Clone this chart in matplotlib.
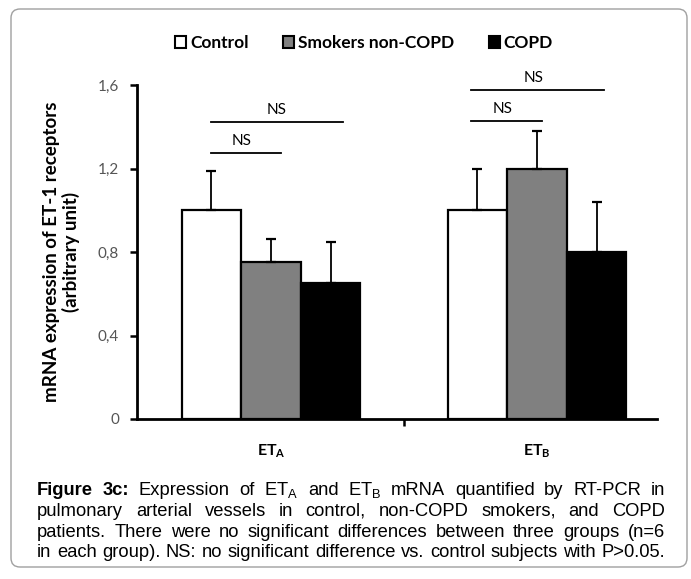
import numpy as np
import matplotlib
matplotlib.use("Agg")
import matplotlib.pyplot as plt
from matplotlib.patches import Patch, FancyBboxPatch
from matplotlib.transforms import IdentityTransform

# data
groups = ["ET$_\\mathregular{A}$", "ET$_\\mathregular{B}$"]
series = ["Control", "Smokers non-COPD", "COPD"]
means = {
    "Control": [1.00, 1.00],
    "Smokers non-COPD": [0.75, 1.20],
    "COPD": [0.65, 0.80],
}
upper_err = {
    "Control": [0.19, 0.20],
    "Smokers non-COPD": [0.11, 0.18],
    "COPD": [0.20, 0.24],
}
y_ticks = [0, 0.4, 0.8, 1.2, 1.6]
y_tick_labels = ["0", "0,4", "0,8", "1,2", "1,6"]

caption_lines = [
    "Figure 3c: Expression of ET$_\\mathregular{A}$ and ET$_\\mathregular{B}$ mRNA quantified by RT-PCR in",
    "pulmonary arterial vessels in control, non-COPD smokers, and COPD",
    "patients.  There were no significant differences between three groups (n=6",
    "in each group). NS: no significant difference vs. control subjects with P>0.05.",
]

colors = {"Control": "white", "Smokers non-COPD": "#808080", "COPD": "black"}
ui_font = ["Lato", "DejaVu Sans"]
cap_font = ["Liberation Sans", "DejaVu Sans"]

W, H = 691, 579
fig = plt.figure(figsize=(W / 100, H / 100), dpi=100)


def fx(px):
    return px / W


def fy(py):
    return 1 - py / H


# outer rounded frame
frame = FancyBboxPatch((11, H - 567), 676, 558, boxstyle="round,pad=0,rounding_size=9",
                       transform=IdentityTransform(), facecolor="white",
                       edgecolor="#a0a0a0", linewidth=1.0, zorder=-10)
fig.patches.append(frame)

ax_left, ax_right, ax_top, ax_bot = 137, 657, 85, 419
ax = fig.add_axes([fx(ax_left), fy(ax_bot), fx(ax_right - ax_left), (ax_bot - ax_top) / H])

x = np.arange(len(groups))
width = 0.224
offsets = [-width, 0, width]
for off, name in zip(offsets, series):
    ax.bar(x + off, means[name], width, color=colors[name], edgecolor="black",
           linewidth=1.6, zorder=2)
    ax.errorbar(x + off, means[name], yerr=[np.zeros(len(groups)), upper_err[name]],
                fmt="none", ecolor="black", elinewidth=1.3, capsize=3.5, capthick=1.6, zorder=3)

ax.set_xlim(-0.504, 1.451)
ax.set_ylim(0, 1.6)
ax.set_yticks(y_ticks)
ax.set_yticklabels(y_tick_labels, fontfamily=ui_font, fontsize=11, color="#555555")
ax.tick_params(axis="y", direction="out", length=5, width=1.8, pad=8)
ax.set_xticks([0.5])
ax.set_xticklabels([""])
ax.tick_params(axis="x", direction="out", length=5, width=1.8)
ax.set_xticks(x, minor=True)
ax.set_xticklabels(groups, minor=True, fontfamily=ui_font, fontsize=11.5, fontweight="bold")
ax.tick_params(axis="x", which="minor", length=0, pad=17)
for side in ["top", "right"]:
    ax.spines[side].set_visible(False)
for side in ["left", "bottom"]:
    ax.spines[side].set_linewidth(2.0)

ax.set_ylabel("mRNA expression of ET-1 receptors\n(arbitrary unit)", fontfamily=ui_font,
              fontsize=13.5, fontweight="bold", linespacing=1.1)
ax.yaxis.set_label_coords(-0.11, 0.5)

# NS brackets
brackets = [
    (-0.226, 0.038, 1.274, -0.109),
    (-0.226, 0.271, 1.423, 0.02),
    (0.752, 1.019, 1.428, 0.872),
    (0.752, 1.252, 1.576, 0.989),
]
for x0, x1, yy, tx in brackets:
    ax.plot([x0, x1], [yy, yy], color="black", linewidth=1.3, clip_on=False)
    ax.text(tx, yy + 0.025, "NS", ha="center", va="bottom", fontsize=11,
            fontfamily=ui_font, clip_on=False)

# legend
handles = [Patch(facecolor=colors[n], edgecolor="black", linewidth=1.5) for n in series]
fig.legend(handles, series, loc="center", bbox_to_anchor=(fx(364), fy(43)), ncol=3,
           frameon=False, handlelength=0.65, handleheight=0.65, handletextpad=0.2,
           columnspacing=2.0, prop={"family": ui_font, "weight": "bold", "size": 12.5})

# justified caption, font size fitted so the last line has plain spacing
fig.canvas.draw()
renderer = fig.canvas.get_renderer()
cap_left, cap_right = 37, 665
probe = fig.text(0, 0, caption_lines[-1], fontsize=10, fontfamily=cap_font)
cap_size = 10 * (cap_right - cap_left) / probe.get_window_extent(renderer).width
probe.remove()
baselines = [495, 516, 537, 557]
for i, (line, base) in enumerate(zip(caption_lines, baselines)):
    words = line.split()
    texts = []
    for j, w in enumerate(words):
        bold = i == 0 and j < 2
        t = fig.text(0, fy(base), w, fontsize=cap_size, fontfamily=cap_font,
                     fontweight="bold" if bold else "normal", va="baseline", ha="left")
        texts.append(t)
    widths = [t.get_window_extent(renderer).width for t in texts]
    gap = (cap_right - cap_left - sum(widths)) / (len(words) - 1)
    pos = cap_left
    for t, wd in zip(texts, widths):
        t.set_x(fx(pos))
        pos += wd + gap

fig.savefig("out.png", dpi=100)
